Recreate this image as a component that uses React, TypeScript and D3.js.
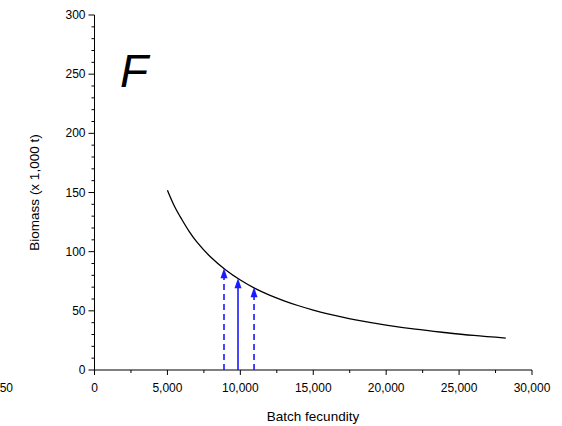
import React from "react";
import * as d3 from "d3";

const fecundity = [5000, 5500, 6000, 6500, 7000, 8000, 9000, 10000, 11000, 12000, 13000, 14000, 15000, 16000, 17000, 18000, 20000, 22000, 24000, 26000, 28200];
const biomass = [152, 138, 127, 117, 108.5, 95, 84.5, 76, 69, 63.3, 58.5, 54.3, 50.7, 47.5, 44.7, 42.2, 38, 34.5, 31.7, 29.2, 27];

const arrowX = [8880, 9840, 10940];
const arrowY = [86, 77.5, 70];
const arrowDashed = [true, false, true];

const xTicks = [0, 5000, 10000, 15000, 20000, 25000, 30000];
const yTicks = [0, 50, 100, 150, 200, 250, 300];

const W = 562, H = 426;
const FONT = "'Liberation Sans', Arial, sans-serif";

export default function App() {
  const x = d3.scaleLinear().domain([0, 30000]).range([94.5, 532]);
  const y = d3.scaleLinear().domain([0, 300]).range([370, 15]);
  const fmt = d3.format(",");
  const line = d3.line<number>()
    .x((_, i) => x(fecundity[i]))
    .y((d) => y(d))
    .curve(d3.curveCatmullRom);
  const xMinor = d3.range(2500, 30000, 5000);
  const yMinor = d3.range(0, 300, 10).filter((v) => v % 50 !== 0);
  const blue = "#1a1aff";
  return (
    <svg width={W} height={H} style={{ position: "absolute", left: 0, top: 0 }} fontFamily={FONT}>
      <rect width={W} height={H} fill="#fff" />
      {/* label from neighbouring panel */}
      <text x={13} y={392} fontSize={12} textAnchor="end">50</text>
      {/* axes */}
      <line x1={x(0)} x2={x(30000)} y1={y(0)} y2={y(0)} stroke="#000" strokeWidth={1} />
      <line x1={x(0)} x2={x(0)} y1={y(0)} y2={y(300)} stroke="#000" strokeWidth={1} />
      {xTicks.map((t) => (
        <g key={"xt" + t}>
          <line x1={x(t)} x2={x(t)} y1={y(0)} y2={y(0) + 5} stroke="#000" />
          <text x={x(t)} y={392} fontSize={12} textAnchor="middle">{fmt(t)}</text>
        </g>
      ))}
      {xMinor.map((t) => (
        <line key={"xm" + t} x1={x(t)} x2={x(t)} y1={y(0)} y2={y(0) + 3} stroke="#000" />
      ))}
      {yTicks.map((t) => (
        <g key={"yt" + t}>
          <line x1={x(0) - 6} x2={x(0)} y1={y(t)} y2={y(t)} stroke="#000" />
          <text x={x(0) - 9} y={y(t) + 4} fontSize={12} textAnchor="end">{fmt(t)}</text>
        </g>
      ))}
      {yMinor.map((t) => (
        <line key={"ym" + t} x1={x(0) - 3} x2={x(0)} y1={y(t)} y2={y(t)} stroke="#000" />
      ))}
      <text x={313} y={421} fontSize={13.5} textAnchor="middle">Batch fecundity</text>
      <text transform={`translate(39,${y(150)}) rotate(-90)`} fontSize={13.5} textAnchor="middle">Biomass (x 1,000 t)</text>
      <text x={120} y={87} fontSize={46} fontStyle="italic">F</text>
      {/* curve */}
      <path d={line(biomass) || ""} fill="none" stroke="#000" strokeWidth={1.3} />
      {/* arrows */}
      {arrowX.map((a, i) => {
        const px = x(a);
        const tip = y(arrowY[i]);
        return (
          <g key={"ar" + i}>
            <line x1={px} x2={px} y1={y(0)} y2={tip + 8} stroke={blue} strokeWidth={1.6}
              strokeDasharray={arrowDashed[i] ? "6,4" : undefined} />
            <path d={`M${px},${tip} L${px - 3.5},${tip + 10} L${px + 3.5},${tip + 10} Z`} fill={blue} />
          </g>
        );
      })}
    </svg>
  );
}
